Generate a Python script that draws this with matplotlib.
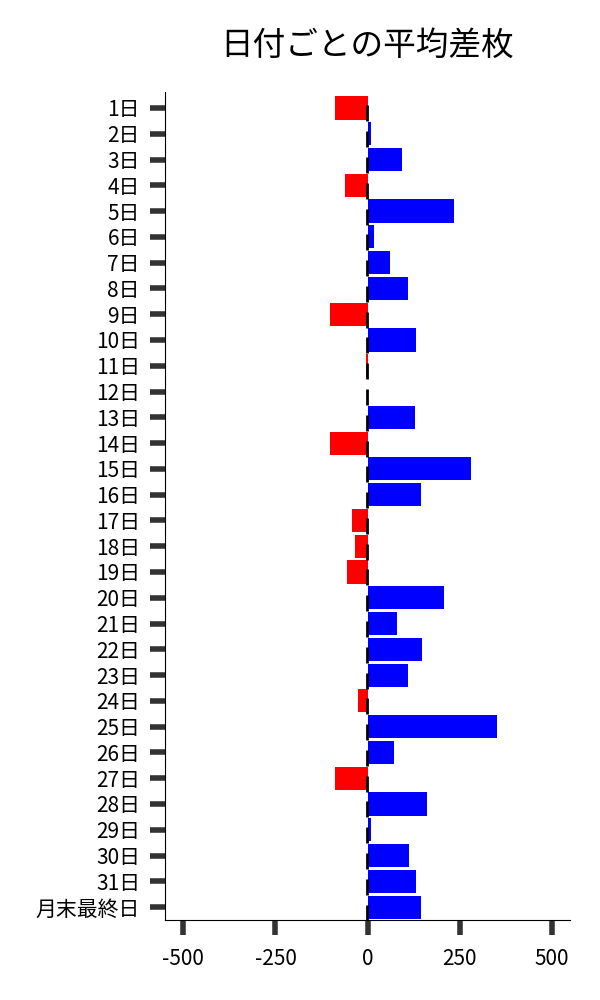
import matplotlib
matplotlib.use('Agg')
import matplotlib.pyplot as plt

plt.rcParams['font.family'] = ['Noto Sans CJK JP', 'DejaVu Sans']

days = [f'{d}日' for d in range(1, 32)] + ['月末最終日']
diffs = [-87, 9, 94, -60, 236, 19, 62, 110, -103, 133,
         -3, 0, 130, -103, 280, 146, -41, -33, -57, 209,
         79, 147, 111, -27, 353, 71, -88, 161, 9, 112,
         132, 146]

colors = ['blue' if v >= 0 else 'red' for v in diffs]
ypos = list(range(len(days)))

fig = plt.figure(figsize=(6, 10), dpi=100)
ax = fig.add_axes([0.275, 0.08, 0.675, 0.828])

ax.barh(ypos, diffs, height=0.9, color=colors)
# 0の位置の黒い線
ax.vlines([-2] * len(ypos), [y - 0.1 for y in ypos], [y + 0.52 for y in ypos],
          colors='black', linewidth=2)

ax.set_yticks(ypos)
ax.set_yticklabels(days, fontsize=15)
ax.set_xticks([-500, -250, 0, 250, 500])
ax.set_xticklabels(['-500', '-250', '0', '250', '500'], fontsize=15)
ax.set_xlim(-550, 550)
ax.set_ylim(31.5, -0.62)

ax.spines['top'].set_visible(False)
ax.spines['right'].set_visible(False)
ax.tick_params(axis='both', length=11, width=4, color='#333333')
ax.tick_params(axis='y', pad=7)
ax.tick_params(axis='x', pad=9)

ax.set_title('日付ごとの平均差枚', fontsize=23.5, pad=27)

fig.savefig('out.png')
